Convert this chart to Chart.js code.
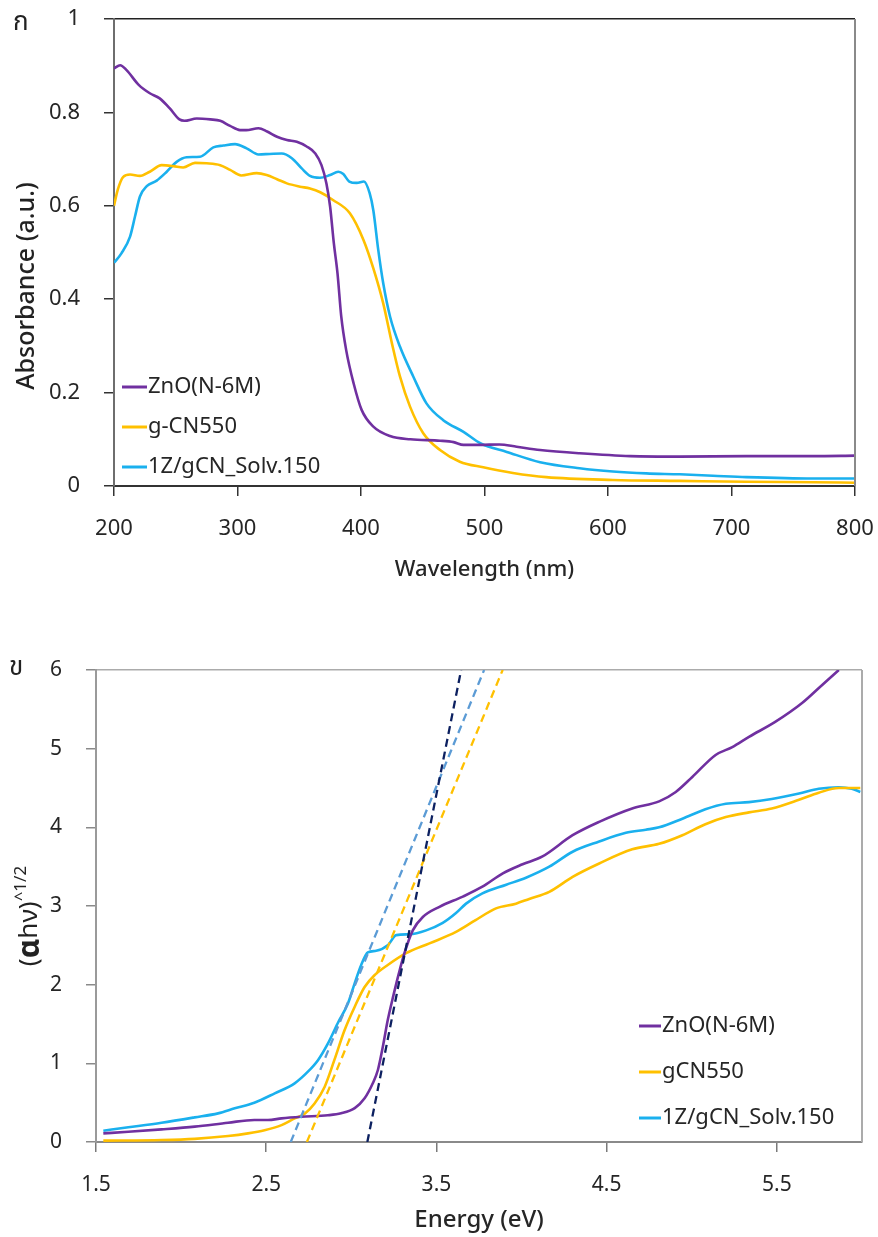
<!DOCTYPE html>
<html>
<head>
<meta charset="utf-8">
<title>UV-vis absorbance and Tauc plot</title>
<script src="https://cdn.jsdelivr.net/npm/chart.js@4.4.1/dist/chart.umd.min.js"></script>
<style>
  body { margin: 0; background: #fff; width: 878px; height: 1237px; position: relative; overflow: hidden; }
  #absChart { position: absolute; left: 0; top: 0; }
  #taucChart { position: absolute; left: 0; top: 640px; }
</style>
</head>
<body>
<canvas id="absChart" width="878" height="600"></canvas>
<canvas id="taucChart" width="878" height="597"></canvas>
<script>
// --- top panel: absorbance vs wavelength ---
const wlTicks = [200, 300, 400, 500, 600, 700, 800];
const absTicks = [0, 0.2, 0.4, 0.6, 0.8, 1];

const znoWl = [200, 205, 210, 220, 229, 237, 245, 253, 257, 267, 278, 286, 294, 302, 307, 317, 324, 332, 340, 348, 356, 363, 368, 372, 375, 378, 381, 384, 388, 394, 400.5, 410, 423.5, 440, 464, 475, 483, 496, 512, 526, 545, 577, 618, 658, 712, 766, 800];
const znoAbs = [0.894, 0.901, 0.891, 0.859, 0.841, 0.830, 0.809, 0.785, 0.782, 0.787, 0.785, 0.782, 0.771, 0.762, 0.762, 0.766, 0.759, 0.748, 0.741, 0.737, 0.727, 0.712, 0.687, 0.648, 0.598, 0.52, 0.455, 0.363, 0.291, 0.220, 0.163, 0.127, 0.107, 0.100, 0.097, 0.094, 0.088, 0.088, 0.089, 0.084, 0.077, 0.070, 0.064, 0.063, 0.064, 0.064, 0.065];

const gcnWl = [200, 203, 207.5, 213, 221, 229, 238.6, 248, 256, 265.6, 275, 286, 294, 303, 315.5, 323.6, 332, 340, 350.6, 358.7, 367, 377.6, 391, 402, 410, 418, 425, 431.6, 439.7, 450.4, 464, 480, 499, 523, 550, 604, 658, 712, 766, 800];
const gcnAbs = [0.600, 0.634, 0.662, 0.667, 0.664, 0.673, 0.687, 0.685, 0.682, 0.692, 0.691, 0.687, 0.677, 0.665, 0.670, 0.666, 0.657, 0.648, 0.641, 0.637, 0.629, 0.612, 0.584, 0.527, 0.466, 0.391, 0.306, 0.234, 0.170, 0.113, 0.077, 0.052, 0.040, 0.028, 0.019, 0.013, 0.011, 0.009, 0.008, 0.007];

const compWl = [200, 206, 213, 217, 221, 226.5, 234.6, 242.7, 250.7, 258.8, 269.6, 280.4, 288.5, 298, 307.4, 317, 326, 335.8, 344, 352, 358.7, 366.8, 375, 381.6, 385.7, 390.5, 396.5, 402.4, 407, 410, 414, 418, 423.5, 431.6, 442.4, 453, 466.6, 483, 497, 518, 545, 577, 604, 631, 658, 685, 712, 766, 800];
const compAbs = [0.478, 0.498, 0.534, 0.577, 0.620, 0.642, 0.654, 0.673, 0.694, 0.704, 0.705, 0.725, 0.729, 0.732, 0.723, 0.710, 0.711, 0.712, 0.702, 0.680, 0.664, 0.660, 0.666, 0.673, 0.668, 0.652, 0.649, 0.652, 0.627, 0.59, 0.505, 0.434, 0.363, 0.298, 0.234, 0.177, 0.141, 0.116, 0.091, 0.073, 0.051, 0.038, 0.031, 0.027, 0.025, 0.022, 0.019, 0.016, 0.016];

// --- bottom panel: (ahv)^1/2 vs energy ---
const energyTicks = [1.5, 2.5, 3.5, 4.5, 5.5];
const taucTicks = [0, 1, 2, 3, 4, 5, 6];

const znoEv = [1.543, 1.69, 1.885, 2.08, 2.276, 2.43, 2.51, 2.59, 2.706, 2.862, 2.94, 3.02, 3.078, 3.126, 3.156, 3.185, 3.214, 3.248, 3.28, 3.312, 3.361, 3.42, 3.518, 3.655, 3.77, 3.89, 4.006, 4.123, 4.30, 4.456, 4.65, 4.808, 4.906, 5.003, 5.14, 5.238, 5.336, 5.49, 5.648, 5.766, 5.864];
const znoTauc = [0.11, 0.13, 0.16, 0.195, 0.245, 0.28, 0.28, 0.30, 0.32, 0.34, 0.365, 0.43, 0.555, 0.746, 0.915, 1.21, 1.55, 1.87, 2.15, 2.40, 2.69, 2.86, 2.99, 3.12, 3.245, 3.415, 3.53, 3.63, 3.90, 4.07, 4.24, 4.33, 4.45, 4.64, 4.92, 5.02, 5.15, 5.34, 5.58, 5.81, 6.0];

const gcnEv = [1.543, 1.885, 2.08, 2.276, 2.393, 2.49, 2.59, 2.667, 2.726, 2.784, 2.843, 2.90, 2.96, 3.02, 3.078, 3.136, 3.214, 3.322, 3.459, 3.615, 3.73, 3.85, 3.967, 4.045, 4.163, 4.30, 4.456, 4.65, 4.808, 4.945, 5.08, 5.20, 5.336, 5.47, 5.63, 5.746, 5.864, 5.99];
const gcnTauc = [0.017, 0.025, 0.04, 0.076, 0.11, 0.15, 0.215, 0.30, 0.36, 0.49, 0.70, 1.04, 1.42, 1.72, 1.97, 2.12, 2.25, 2.40, 2.525, 2.67, 2.82, 2.97, 3.03, 3.09, 3.18, 3.37, 3.54, 3.72, 3.79, 3.90, 4.04, 4.13, 4.19, 4.24, 4.35, 4.44, 4.50, 4.50];

const compEv = [1.543, 1.69, 1.885, 2.08, 2.217, 2.315, 2.43, 2.55, 2.667, 2.745, 2.804, 2.862, 2.92, 2.98, 3.02, 3.058, 3.097, 3.146, 3.214, 3.264, 3.342, 3.44, 3.537, 3.615, 3.674, 3.77, 3.91, 4.026, 4.163, 4.30, 4.456, 4.613, 4.73, 4.808, 4.945, 5.08, 5.20, 5.336, 5.47, 5.63, 5.746, 5.864, 5.94, 5.99];
const compTauc = [0.144, 0.187, 0.245, 0.313, 0.364, 0.428, 0.50, 0.619, 0.746, 0.894, 1.04, 1.25, 1.51, 1.76, 2.02, 2.25, 2.41, 2.43, 2.50, 2.63, 2.64, 2.69, 2.785, 2.91, 3.03, 3.16, 3.27, 3.36, 3.50, 3.69, 3.82, 3.93, 3.97, 4.00, 4.11, 4.23, 4.30, 4.32, 4.36, 4.43, 4.49, 4.51, 4.49, 4.45];

// tangent (band gap) fits, drawn from y = 0 up to the top of the axis
const fitTauc = [0, 6];
const znoFitEv = [3.094, 3.645];
const compFitEv = [2.644, 3.78];
const gcnFitEv = [2.739, 3.889];

const FONT = '"Noto Sans", "Open Sans", sans-serif';
const PURPLE = '#7030a0';
const ORANGE = '#ffc000';
const BLUE = '#1ab0ee';
const NAVY = '#0c2060';
const SKY = '#5b9bd5';

Chart.defaults.font.family = FONT;
Chart.defaults.color = '#262626';

const pts = (xs, ys) => xs.map((x, i) => ({ x, y: ys[i] }));

function series(label, data, color, dash) {
  return {
    label,
    data,
    borderColor: color,
    backgroundColor: color,
    borderWidth: dash ? 2.3 : 2.6,
    borderDash: dash || [],
    pointRadius: 0,
    fill: false,
    cubicInterpolationMode: 'monotone'
  };
}

// fixed axis sizes so the plot area lands where the original one is
function fixWidth(w) {
  return s => { s.width = w; s.paddingTop = 0; s.paddingBottom = 0; };
}
function fixHeight(h) {
  return s => { s.height = h; s.paddingLeft = 0; s.paddingRight = 0; };
}

// right frame, inside legend, panel letter and rotated y title
const panelDeco = {
  id: 'panelDeco',
  afterDraw(chart, args, o) {
    const { ctx, chartArea: a } = chart;
    ctx.save();
    ctx.strokeStyle = o.frameColor;
    ctx.lineWidth = 2;
    ctx.beginPath();
    ctx.moveTo(a.right, a.top);
    ctx.lineTo(a.right, a.bottom);
    ctx.stroke();

    ctx.font = `${o.legendSize}px ${FONT}`;
    ctx.textBaseline = 'middle';
    ctx.textAlign = 'left';
    let y = o.legendY;
    chart.data.datasets.forEach(ds => {
      if (!ds.label) return;
      ctx.strokeStyle = ds.borderColor;
      ctx.lineWidth = 3;
      ctx.beginPath();
      ctx.moveTo(o.legendX, y);
      ctx.lineTo(o.legendX + o.sampleLen, y);
      ctx.stroke();
      ctx.fillStyle = '#262626';
      ctx.fillText(ds.label, o.legendX + o.sampleLen + 1, y);
      y += o.legendGap;
    });

    ctx.font = `26px "Noto Sans Thai", "Noto Sans", "DejaVu Sans", sans-serif`;
    ctx.fillStyle = '#222';
    ctx.fillText(o.letter, o.letterX, o.letterY);

    ctx.translate(o.titleX, o.titleY);
    ctx.rotate(-Math.PI / 2);
    let total = 0;
    o.title.forEach(seg => {
      ctx.font = `${seg.font} ${FONT}`;
      seg.w = ctx.measureText(seg.text).width;
      total += seg.w;
    });
    let x = -total / 2;
    o.title.forEach(seg => {
      ctx.font = `${seg.font} ${FONT}`;
      ctx.fillText(seg.text, x, seg.dy || 0);
      x += seg.w;
    });
    ctx.restore();
  }
};

// --- Absorbance chart ---
new Chart(document.getElementById('absChart'), {
  type: 'line',
  data: {
    datasets: [
      series('ZnO(N-6M)', pts(znoWl, znoAbs), PURPLE),
      series('g-CN550', pts(gcnWl, gcnAbs), ORANGE),
      series('1Z/gCN_Solv.150', pts(compWl, compAbs), BLUE)
    ]
  },
  options: {
    responsive: false,
    animation: false,
    layout: { padding: { top: 19, right: 23, left: 0, bottom: 0 } },
    plugins: {
      legend: { display: false },
      tooltip: { enabled: false },
      panelDeco: {
        frameColor: '#8a8a8a',
        legendX: 122, legendY: 387, legendGap: 40, sampleLen: 25, legendSize: 22,
        letter: 'ก', letterX: 13, letterY: 25,
        titleX: 27, titleY: 286,
        title: [{ text: 'Absorbance (a.u.)', font: '500 25px' }]
      }
    },
    scales: {
      x: {
        type: 'linear',
        min: 200,
        max: 800,
        afterBuildTicks: s => { s.ticks = wlTicks.map(v => ({ value: v })); },
        afterFit: fixHeight(114),
        ticks: { font: { size: 22 }, padding: 20, maxRotation: 0 },
        grid: { color: 'rgba(0,0,0,0)', tickColor: '#333', tickLength: 10, lineWidth: 1.5 },
        border: { color: '#333', width: 2 },
        title: { display: true, text: 'Wavelength (nm)', font: { size: 22, weight: '500' }, color: '#262626', padding: { top: 0, bottom: 17 } }
      },
      y: {
        min: 0,
        max: 1,
        afterBuildTicks: s => { s.ticks = absTicks.map(v => ({ value: v })); },
        afterFit: fixWidth(114),
        ticks: { font: { size: 22 }, padding: 24, callback: v => String(Number(v.toFixed(2))) },
        grid: {
          color: ctx => ctx.tick && ctx.tick.value === 1 ? '#222' : 'rgba(0,0,0,0)',
          tickColor: '#333',
          tickLength: 10,
          lineWidth: 1.5
        },
        border: { color: '#6e6e6e', width: 2 }
      }
    }
  },
  plugins: [panelDeco]
});

// --- Tauc chart ---
new Chart(document.getElementById('taucChart'), {
  type: 'line',
  data: {
    datasets: [
      series('', pts(znoFitEv, fitTauc), NAVY, [8, 5]),
      series('', pts(compFitEv, fitTauc), SKY, [8, 5]),
      series('', pts(gcnFitEv, fitTauc), ORANGE, [8, 5]),
      series('ZnO(N-6M)', pts(znoEv, znoTauc), PURPLE),
      series('gCN550', pts(gcnEv, gcnTauc), ORANGE),
      series('1Z/gCN_Solv.150', pts(compEv, compTauc), BLUE)
    ]
  },
  options: {
    responsive: false,
    animation: false,
    layout: { padding: { top: 30, right: 16, left: 0, bottom: 0 } },
    plugins: {
      legend: { display: false },
      tooltip: { enabled: false },
      panelDeco: {
        frameColor: '#ababab',
        legendX: 639, legendY: 386, legendGap: 46, sampleLen: 22, legendSize: 22,
        letter: 'ข', letterX: 9, letterY: 30,
        titleX: 30, titleY: 276,
        title: [
          { text: '(', font: '26px' },
          { text: 'α', font: 'bold 30px' },
          { text: 'hν)', font: '26px' },
          { text: '^1/2', font: '17px', dy: -9 }
        ]
      }
    },
    scales: {
      x: {
        type: 'linear',
        min: 1.5,
        max: 6,
        afterBuildTicks: s => { s.ticks = energyTicks.map(v => ({ value: v })); },
        afterFit: fixHeight(95),
        ticks: { font: { size: 21 }, padding: 20, maxRotation: 0, callback: v => v.toFixed(1) },
        grid: { color: 'rgba(0,0,0,0)', tickColor: '#7a7a7a', tickLength: 10, lineWidth: 1.5 },
        border: { color: '#8a8a8a', width: 2 },
        title: { display: true, text: 'Energy (eV)', font: { size: 24, weight: '500' }, color: '#262626', padding: { top: 0, bottom: 2 } }
      },
      y: {
        min: 0,
        max: 6,
        afterBuildTicks: s => { s.ticks = taucTicks.map(v => ({ value: v })); },
        afterFit: fixWidth(96),
        ticks: { font: { size: 21 }, padding: 24 },
        grid: {
          color: ctx => ctx.tick && ctx.tick.value === 6 ? '#ababab' : 'rgba(0,0,0,0)',
          tickColor: '#8a8a8a',
          tickLength: 10,
          lineWidth: 1.5
        },
        border: { color: '#9a9a9a', width: 2 }
      }
    }
  },
  plugins: [panelDeco]
});
</script>
</body>
</html>
